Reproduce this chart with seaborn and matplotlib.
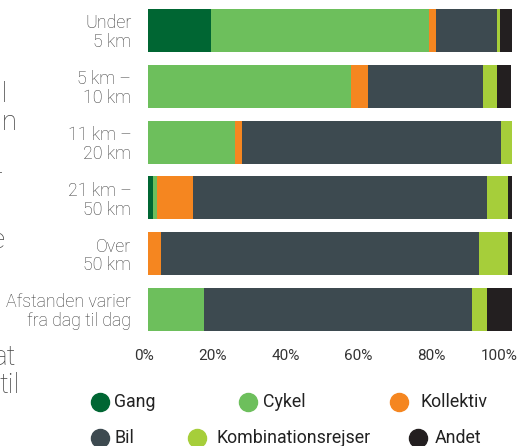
import numpy as np
import pandas as pd
import seaborn as sns
import matplotlib.pyplot as plt
from matplotlib.lines import Line2D
from matplotlib.transforms import ScaledTranslation
from matplotlib import font_manager

# data (share of trips in %)
categories = ["Under\n5 km", "5 km –\n10 km", "11 km –\n20 km", "21 km –\n50 km",
              "Over\n50 km", "Afstanden varier\nfra dag til dag"]
modes = ["Gang", "Cykel", "Kollektiv", "Bil", "Kombinationsrejser", "Andet"]
gang = [17.3, 0, 0, 1.4, 0, 0]
cykel = [60.0, 55.7, 24.0, 1.0, 0, 15.4]
kollektiv = [1.8, 4.8, 1.9, 10.0, 3.5, 0]
bil = [16.8, 31.4, 71.1, 80.6, 87.3, 73.5]
kombination = [0.8, 4.0, 3.0, 5.9, 8.1, 4.1]
andet = [3.3, 3.8, 0, 1.1, 1.1, 7.0]
xticks = [0, 20, 40, 60, 80, 100]

colors = {"Gang": "#006633", "Cykel": "#6dbf5c", "Kollektiv": "#f58620",
          "Bil": "#3d4a50", "Kombinationsrejser": "#a6ce3a", "Andet": "#231f20"}

sns.set_style("white")
names = {f.name for f in font_manager.fontManager.ttflist}
fam = "Roboto Slab" if "Roboto Slab" in names else "Roboto"
plt.rcParams['font.family'] = [fam, 'DejaVu Sans']

df = pd.DataFrame({"Gang": gang, "Cykel": cykel, "Kollektiv": kollektiv, "Bil": bil,
                   "Kombinationsrejser": kombination, "Andet": andet}, index=categories)
cum = df.cumsum(axis=1)

fig = plt.figure(figsize=(5.31, 4.46), dpi=100)
ax = fig.add_axes([0.2787, 0.2435, 0.6855, 0.7507])

# stacked bars: draw cumulative totals from the last mode back to the first
for m in reversed(modes):
    sns.barplot(x=cum[m].values, y=categories, color=colors[m], orient="h",
                width=0.77, saturation=1, linewidth=0, errorbar=None, ax=ax)

ax.set_xlim(0, 100)
ax.set_xticks(xticks)
ax.set_xticklabels([f"{v}%" for v in xticks])
ax.set_xlabel("")
ax.set_ylabel("")
sns.despine(ax=ax, left=True, bottom=True)
ax.tick_params(axis="x", length=0, pad=8, labelsize=11, labelcolor="#333333")
ax.tick_params(axis="y", length=0, pad=12, labelsize=12.8, labelcolor="#3a3a3a")
for lab in ax.get_yticklabels():
    lab.set_fontweight("light")
    lab.set_linespacing(1.05)
for lab in ax.get_xticklabels():
    lab.set_ha("right")
    lab.set_transform(lab.get_transform() + ScaledTranslation(6 / 100, 0, fig.dpi_scale_trans))

# legend laid out like the flowing html legend
W, H = 531, 446
leg_items = [("Gang", 100, 114, 402), ("Cykel", 248, 263, 402), ("Kollektiv", 399, 421, 402),
             ("Bil", 100, 115, 438), ("Kombinationsrejser", 197, 217, 438), ("Andet", 418, 435, 438)]
for name, cx, tx, y in leg_items:
    fig.add_artist(Line2D([cx / W], [1 - y / H], marker="o", ms=13, color=colors[name],
                          linestyle="none", transform=fig.transFigure))
    fig.text(tx / W, 1 - y / H, name, va="center", ha="left", fontsize=12.8, color="#222222")

# clipped paragraph text at the left edge of the page
side_text = [("skal", 8, 102), ("kan", 18, 130), ("er", 3, 187), ("de", 6, 248),
             ("at", 16, 365), ("til", 20, 393)]
for word, rx, by in side_text:
    fig.text(rx / W, 1 - by / H, word, ha="right", va="baseline", fontsize=20,
             fontweight="light", color="#444444")

fig.savefig("out.png", dpi=100)
